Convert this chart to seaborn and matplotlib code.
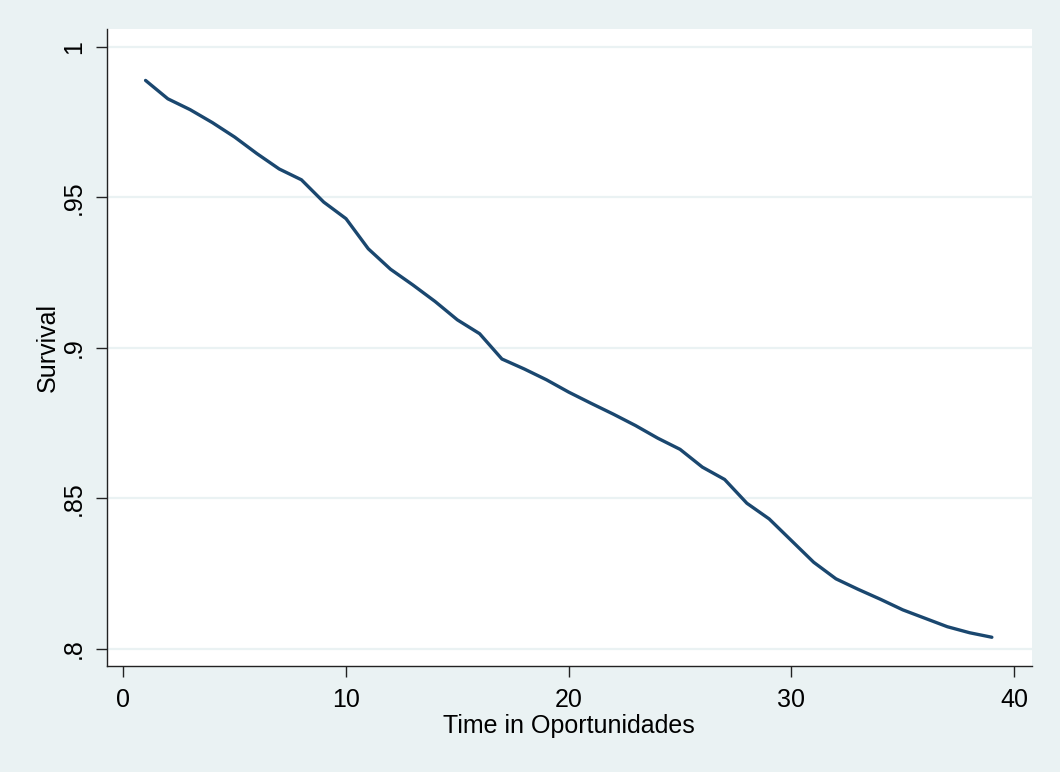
import matplotlib
matplotlib.use("Agg")
import matplotlib.pyplot as plt
import seaborn as sns
import pandas as pd

time = list(range(1, 40))
survival = [0.9888, 0.9827, 0.9791, 0.9748, 0.9700, 0.9645, 0.9594, 0.9558, 0.9484, 0.9429,
            0.9329, 0.9261, 0.9209, 0.9154, 0.9093, 0.9047, 0.8963, 0.8930, 0.8894, 0.8853,
            0.8816, 0.8780, 0.8742, 0.8700, 0.8663, 0.8604, 0.8563, 0.8484, 0.8432, 0.8360,
            0.8288, 0.8233, 0.8198, 0.8165, 0.8130, 0.8102, 0.8074, 0.8054, 0.8039]
xticks = [0, 10, 20, 30, 40]
yticks = [0.8, 0.85, 0.9, 0.95, 1.0]
ytick_labels = [".8", ".85", ".9", ".95", "1"]

sns.set_style("white")
plt.rcParams['font.family'] = ['Liberation Sans', 'DejaVu Sans']

bg = '#EAF2F3'
df = pd.DataFrame({"time": time, "survival": survival})

fig = plt.figure(figsize=(10.6, 7.72), dpi=100, facecolor=bg)
ax = fig.add_axes([106.5/1060, 1 - 665.5/772, (1031.5-106.5)/1060, (665.5-29.3)/772])
ax.set_facecolor('white')

sns.lineplot(data=df, x="time", y="survival", ax=ax, color='#1A476F', linewidth=2.4)

ax.set_xlim(-0.754, 40.78)
ax.set_ylim(0.79452, 1.00578)
ax.set_xticks(xticks)
ax.set_xticklabels([str(t) for t in xticks])
ax.set_yticks(yticks)
ax.set_yticklabels(ytick_labels, rotation=90, va='center')
ax.yaxis.grid(True, color=bg, linewidth=1.6)
ax.xaxis.grid(False)
ax.set_axisbelow(True)

for s in ['top', 'right']:
    ax.spines[s].set_visible(False)
for s in ['left', 'bottom']:
    ax.spines[s].set_color('#222222')
    ax.spines[s].set_linewidth(1.0)

ax.tick_params(axis='both', which='major', length=8, width=1, color='#222222',
               labelsize=18, labelcolor='black', direction='out', bottom=True, left=True)
ax.tick_params(axis='x', pad=8)
ax.tick_params(axis='y', pad=7)

ax.set_xlabel("Time in Oportunidades", fontsize=18, labelpad=2, color='black')
ax.set_ylabel("Survival", fontsize=18, labelpad=1, color='black')

fig.savefig("out.png", dpi=100, facecolor=bg)
